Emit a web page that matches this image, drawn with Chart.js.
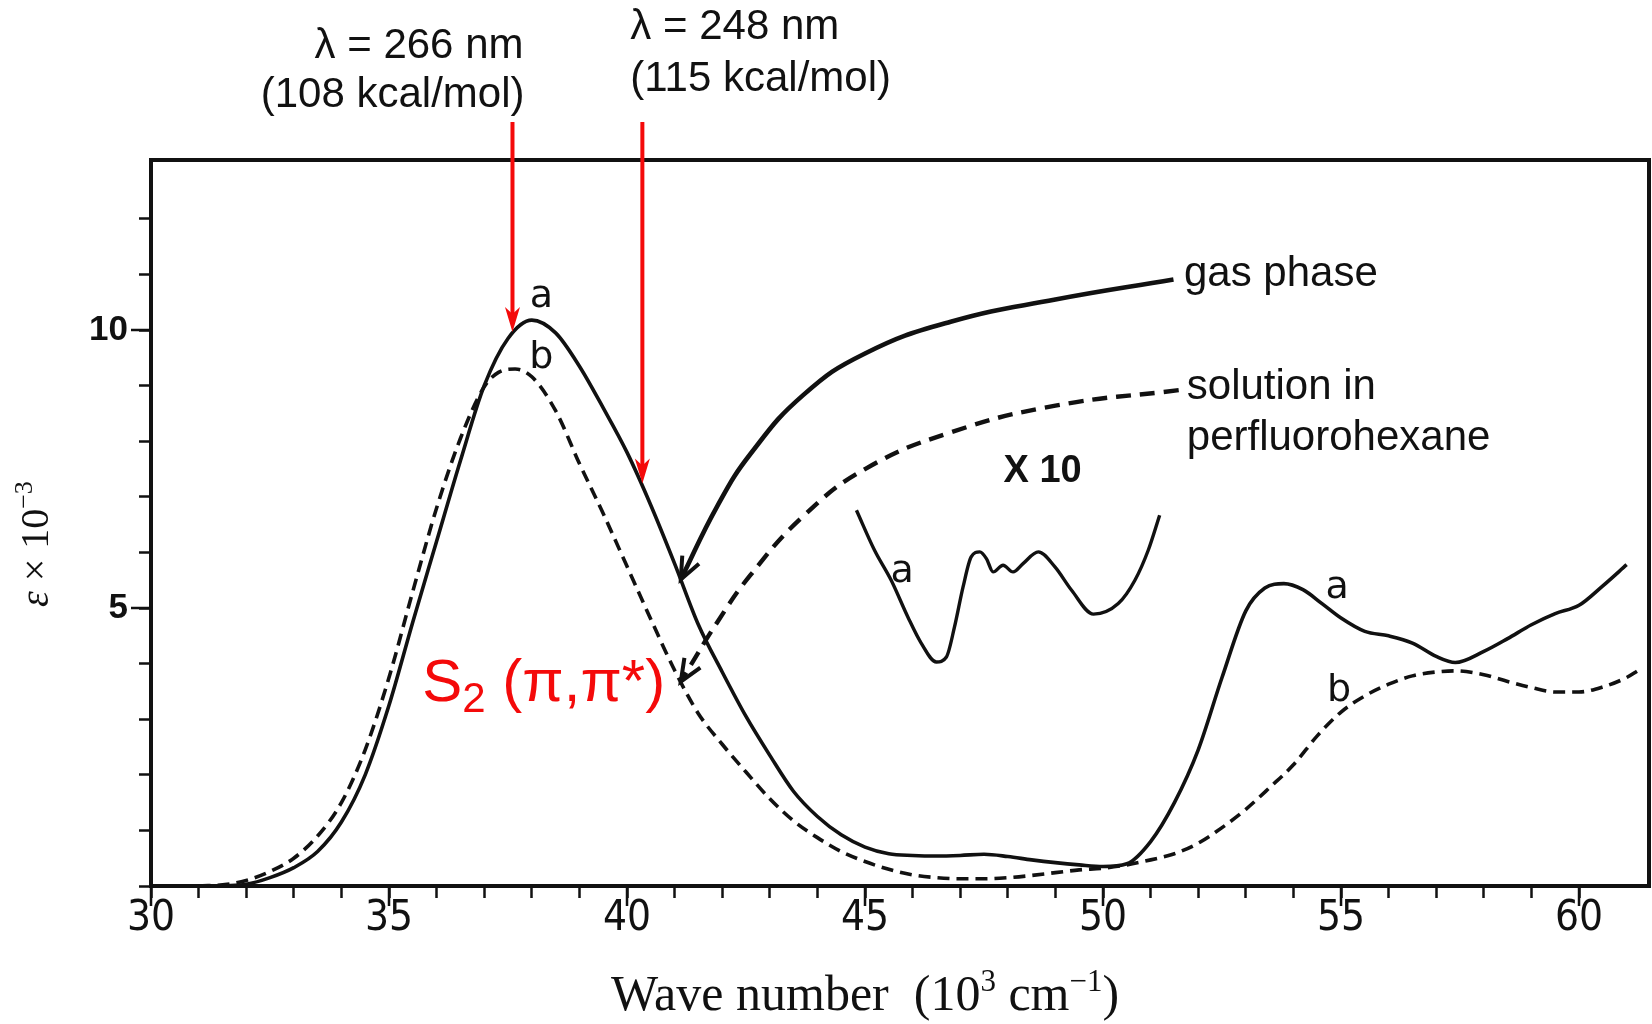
<!DOCTYPE html>
<html>
<head>
<meta charset="utf-8">
<script src="https://cdn.jsdelivr.net/npm/chart.js@4.4.1/dist/chart.umd.min.js"></script>
<style>
  html, body { margin: 0; padding: 0; background: #fff; }
</style>
</head>
<body>
<canvas id="spectrum" width="1652" height="1024"></canvas>
<script>
// curve a: gas phase, wave number in 10^3 cm^-1, eps in units of 10^3
const gasWave = [31.5, 32.0, 32.5, 33.0, 33.5, 34.0, 34.5, 35.0, 35.5, 36.0, 36.5, 37.0, 37.5, 38.0, 38.5, 39.0, 39.5, 40.0, 40.5, 41.0, 41.5, 42.0, 42.5, 43.0, 43.5, 44.0, 44.5, 45.0, 45.5, 46.0, 46.5, 47.0, 47.5, 48.0, 48.5, 49.0, 49.5, 50.0, 50.5, 51.0, 51.5, 52.0, 52.5, 53.0, 53.4, 53.8, 54.2, 54.6, 55.0, 55.5, 56.0, 56.5, 57.0, 57.4, 58.0, 58.5, 59.0, 59.5, 60.0, 60.5, 61.0];
const gasEps = [0.0, 0.03, 0.15, 0.33, 0.62, 1.15, 2.0, 3.25, 4.75, 6.2, 7.65, 9.0, 9.85, 10.18, 9.95, 9.35, 8.6, 7.8, 6.85, 5.8, 4.7, 3.85, 3.05, 2.35, 1.7, 1.25, 0.92, 0.7, 0.58, 0.55, 0.54, 0.55, 0.57, 0.53, 0.47, 0.42, 0.38, 0.35, 0.4, 0.8, 1.5, 2.45, 3.75, 4.95, 5.36, 5.44, 5.33, 5.08, 4.82, 4.58, 4.5, 4.37, 4.13, 4.02, 4.22, 4.45, 4.7, 4.9, 5.05, 5.4, 5.78];

// curve b: solution in perfluorohexane
const solWave = [31.0, 31.6, 32.0, 32.5, 33.0, 33.5, 34.0, 34.5, 35.0, 35.5, 36.0, 36.5, 37.0, 37.3, 37.65, 38.0, 38.5, 39.0, 39.5, 40.0, 40.5, 41.0, 41.5, 42.0, 42.5, 43.0, 43.5, 44.0, 44.5, 45.0, 45.5, 46.0, 46.5, 47.0, 47.5, 48.0, 48.5, 49.0, 49.5, 50.0, 50.5, 51.0, 51.5, 52.0, 52.5, 53.0, 53.5, 54.0, 54.5, 55.0, 55.5, 56.0, 56.5, 57.0, 57.4, 58.0, 58.5, 59.0, 59.5, 60.0, 60.5, 61.0, 61.25];
const solEps = [0.0, 0.03, 0.1, 0.26, 0.5, 0.9, 1.5, 2.45, 3.75, 5.3, 6.8, 8.05, 8.98, 9.24, 9.3, 9.16, 8.55, 7.6, 6.7, 5.75, 4.8, 3.88, 3.1, 2.55, 2.05, 1.57, 1.17, 0.87, 0.62, 0.44, 0.3, 0.2, 0.15, 0.13, 0.13, 0.15, 0.19, 0.24, 0.29, 0.32, 0.38, 0.47, 0.58, 0.77, 1.05, 1.38, 1.77, 2.18, 2.7, 3.13, 3.42, 3.63, 3.78, 3.85, 3.87, 3.8, 3.68, 3.57, 3.49, 3.49, 3.58, 3.75, 3.88];

// weak band of curve a, drawn ten times enlarged
const x10Wave = [44.82, 45.2, 45.55, 45.9, 46.18, 46.5, 46.71, 46.88, 47.06, 47.23, 47.41, 47.55, 47.69, 47.9, 48.11, 48.32, 48.64, 48.99, 49.34, 49.8, 50.32, 50.67, 50.95, 51.19];
const x10Eps = [6.76, 6.04, 5.5, 4.84, 4.37, 4.03, 4.12, 4.66, 5.38, 5.92, 6.01, 5.89, 5.65, 5.77, 5.65, 5.8, 6.01, 5.74, 5.32, 4.89, 5.08, 5.5, 6.04, 6.67];

// excitation wavelengths (nm) and photon energies
const laserNm = [266, 248];
const laserKcal = [108, 115];

// leader curves from the phase names down to the spectra
const gasLeadWave = [51.48, 49.0, 46.8, 45.0, 43.7, 42.6, 41.9];
const gasLeadEps = [10.91, 10.55, 10.15, 9.58, 8.83, 7.78, 6.84];
const solLeadWave = [51.59, 49.0, 46.8, 45.0, 43.7, 42.6, 41.9];
const solLeadEps = [8.92, 8.64, 8.16, 7.5, 6.65, 5.6, 4.75];
const leadTipWave = 41.13;

// labelled ticks
const xTickLabels = [30, 35, 40, 45, 50, 55, 60];
const yTickLabels = [5, 10];

const ink = '#111';
const red = '#f40a0a';
const sans = '"Liberation Sans", Arial, sans-serif';
const serif = '"Liberation Serif", "Times New Roman", serif';

function interp(xs, ys, v) {
    for (let i = 1; i < xs.length; i++) {
        if (v <= xs[i]) {
            const t = (v - xs[i - 1]) / (xs[i] - xs[i - 1]);
            return ys[i - 1] + t * (ys[i] - ys[i - 1]);
        }
    }
    return ys[ys.length - 1];
}

function points(xs, ys) {
    return xs.map((v, i) => ({x: v, y: ys[i]}));
}

function leader(xs, ys, curveX, curveY) {
    const pts = points(xs, ys);
    pts.push({x: leadTipWave, y: interp(curveX, curveY, leadTipWave)});
    return pts;
}

function openHead(ctx, fx, fy, tx, ty, len, spread) {
    const a = Math.atan2(ty - fy, tx - fx);
    ctx.beginPath();
    ctx.moveTo(tx - len * Math.cos(a - spread), ty - len * Math.sin(a - spread));
    ctx.lineTo(tx, ty);
    ctx.lineTo(tx - len * Math.cos(a + spread), ty - len * Math.sin(a + spread));
    ctx.stroke();
}

function redArrow(ctx, px, top, tip) {
    ctx.strokeStyle = red;
    ctx.fillStyle = red;
    ctx.lineWidth = 4;
    ctx.beginPath();
    ctx.moveTo(px, top);
    ctx.lineTo(px, tip - 16);
    ctx.stroke();
    ctx.beginPath();
    ctx.moveTo(px, tip);
    ctx.lineTo(px - 7.5, tip - 25);
    ctx.lineTo(px, tip - 18);
    ctx.lineTo(px + 7.5, tip - 25);
    ctx.closePath();
    ctx.fill();
}

function text(ctx, str, px, py, font, align, color) {
    ctx.font = font;
    ctx.textAlign = align || 'left';
    ctx.textBaseline = 'middle';
    ctx.fillStyle = color || ink;
    ctx.fillText(str, px, py);
}

// draws a run of pieces [text, font, raise] starting at px on one baseline
function runText(ctx, parts, px, py) {
    parts.forEach(s => {
        ctx.font = s[1];
        ctx.fillText(s[0], px, py + s[2]);
        px += ctx.measureText(s[0]).width;
    });
}

function runWidth(ctx, parts) {
    let w = 0;
    parts.forEach(s => { ctx.font = s[1]; w += ctx.measureText(s[0]).width; });
    return w;
}

const annotate = {
    id: 'annotate',
    afterDraw(chart) {
        const ctx = chart.ctx;
        const area = chart.chartArea;
        const x = chart.scales.x;
        const y = chart.scales.y;
        ctx.save();

        // top and right edge of the box
        ctx.strokeStyle = ink;
        ctx.lineWidth = 4;
        ctx.beginPath();
        ctx.moveTo(area.left - 2, area.top);
        ctx.lineTo(area.right, area.top);
        ctx.lineTo(area.right, area.bottom + 2);
        ctx.stroke();

        // longer ticks at the labelled values
        ctx.lineWidth = 2.5;
        ctx.beginPath();
        xTickLabels.forEach(v => {
            const px = x.getPixelForValue(v);
            ctx.moveTo(px, area.bottom);
            ctx.lineTo(px, area.bottom + 20);
        });
        yTickLabels.forEach(v => {
            const py = y.getPixelForValue(v);
            ctx.moveTo(area.left, py);
            ctx.lineTo(area.left - 20, py);
        });
        ctx.stroke();

        // arrow heads of the leader curves
        ctx.strokeStyle = ink;
        ctx.lineWidth = 4;
        [[gasLeadWave, gasLeadEps, gasWave, gasEps], [solLeadWave, solLeadEps, solWave, solEps]].forEach(l => {
            const n = l[0].length - 1;
            const tipY = interp(l[2], l[3], leadTipWave);
            openHead(ctx, x.getPixelForValue(l[0][n]), y.getPixelForValue(l[1][n]),
                x.getPixelForValue(leadTipWave), y.getPixelForValue(tipY), 24, 0.4);
        });

        // excitation lines, wave number = 10^4 / nm in 10^3 cm^-1
        laserNm.forEach((nm, i) => {
            const wave = 1e4 / nm;
            const px = x.getPixelForValue(wave);
            const tip = y.getPixelForValue(interp(gasWave, gasEps, wave)) - 3;
            redArrow(ctx, px, area.top - 38, tip);
            if (i === 0) {
                text(ctx, 'λ = ' + nm + ' nm', px + 11, area.top - 114, '42px ' + sans, 'right');
                text(ctx, '(' + laserKcal[i] + ' kcal/mol)', px + 12, area.top - 65, '42px ' + sans, 'right');
            } else {
                text(ctx, 'λ = ' + nm + ' nm', px - 12, area.top - 133, '42px ' + sans, 'left');
                text(ctx, '(' + laserKcal[i] + ' kcal/mol)', px - 12, area.top - 81, '42px ' + sans, 'left');
            }
        });

        // curve letters and phase names
        const at = (wv, e) => [x.getPixelForValue(wv), y.getPixelForValue(e)];
        const letter = '38px "DejaVu Sans", sans-serif';
        [['a', 38.2, 10.6], ['b', 38.2, 9.5], ['a', 45.78, 5.65], ['a', 54.92, 5.36], ['b', 54.96, 3.5]].forEach(l => {
            const p = at(l[1], l[2]);
            text(ctx, l[0], p[0], p[1], letter, 'center');
        });
        let p = at(48.73, 7.46);
        text(ctx, 'X 10', p[0], p[1], 'bold 38px "Liberation Sans Narrow", ' + sans, 'center');

        p = at(51.7, 11.0);
        text(ctx, 'gas phase', p[0], p[1], '42px ' + sans);
        p = at(51.76, 8.96);
        text(ctx, 'solution in', p[0], p[1], '42px ' + sans);
        p = at(51.76, 8.06);
        text(ctx, 'perfluorohexane', p[0], p[1], '42px ' + sans);

        // state assignment of the band
        p = at(35.7, 3.62);
        ctx.font = '60px ' + sans;
        const wS = ctx.measureText('S').width;
        text(ctx, 'S', p[0], p[1], '60px ' + sans, 'left', red);
        text(ctx, '2', p[0] + wS, p[1] + 16, '42px ' + sans, 'left', red);
        ctx.font = '42px ' + sans;
        const w2 = ctx.measureText('2').width;
        text(ctx, ' (π,π*)', p[0] + wS + w2, p[1], '60px ' + sans, 'left', red);

        // axis titles
        ctx.fillStyle = ink;
        ctx.textBaseline = 'alphabetic';
        ctx.textAlign = 'left';
        const xParts = [['Wave number  (10', '50px ' + serif, 0], ['3', '31px ' + serif, -19], [' cm', '50px ' + serif, 0], ['\u22121', '31px ' + serif, -19], [')', '50px ' + serif, 0]];
        runText(ctx, xParts, x.getPixelForValue(45) - runWidth(ctx, xParts) / 2, 1010);

        const yParts = [['ε', 'italic 40px ' + serif, 0], [' × 10', '40px ' + serif, 0], ['\u22123', '26px ' + serif, -16]];
        const wy = runWidth(ctx, yParts);
        ctx.translate(48, y.getPixelForValue(6.15));
        ctx.rotate(-Math.PI / 2);
        runText(ctx, yParts, -wy / 2, 0);
        ctx.restore();
    }
};

function onlyIntegers(scale) {
    scale.ticks = scale.ticks.filter(t => Number.isInteger(t.value));
}

function createChart() {
    const lineOpts = {pointRadius: 0, borderColor: ink, fill: false, cubicInterpolationMode: 'monotone'};
    new Chart(document.getElementById('spectrum'), {
        type: 'line',
        data: {
            datasets: [
                Object.assign({label: 'a', data: points(gasWave, gasEps), borderWidth: 3.6}, lineOpts),
                Object.assign({label: 'b', data: points(solWave, solEps), borderWidth: 3.6, borderDash: [12, 7]}, lineOpts),
                Object.assign({label: 'a x 10', data: points(x10Wave, x10Eps), borderWidth: 3.4}, lineOpts),
                {label: 'gas phase', data: leader(gasLeadWave, gasLeadEps, gasWave, gasEps), borderWidth: 4.6, borderColor: ink, pointRadius: 0, tension: 0.45},
                {label: 'solution', data: leader(solLeadWave, solLeadEps, solWave, solEps), borderWidth: 4.4, borderColor: ink, borderDash: [15, 9], pointRadius: 0, tension: 0.45}
            ]
        },
        options: {
            responsive: false,
            animation: false,
            devicePixelRatio: 1,
            layout: {padding: {top: 160, right: 3, left: 0, bottom: 0}},
            plugins: {legend: {display: false}, tooltip: {enabled: false}},
            scales: {
                x: {
                    type: 'linear',
                    min: 30,
                    max: 61.47,
                    afterBuildTicks: onlyIntegers,
                    afterFit: s => { s.height = 138; },
                    ticks: {
                        stepSize: 1,
                        autoSkip: false,
                        maxRotation: 0,
                        padding: -4,
                        color: ink,
                        font: {family: '"Liberation Sans Narrow", "DejaVu Sans Condensed", "Liberation Sans"', size: 42},
                        callback: v => xTickLabels.includes(v) ? String(v) : ''
                    },
                    grid: {drawOnChartArea: false, tickLength: 12, tickWidth: 2.5, tickColor: ink},
                    border: {display: true, color: ink, width: 4}
                },
                y: {
                    min: 0,
                    max: 13.06,
                    afterBuildTicks: onlyIntegers,
                    afterFit: s => { s.width = 151; },
                    ticks: {
                        stepSize: 1,
                        autoSkip: false,
                        padding: 11,
                        color: ink,
                        font: {family: sans, size: 35, weight: 'bold'},
                        callback: v => yTickLabels.includes(v) ? String(v) : ''
                    },
                    grid: {drawOnChartArea: false, tickLength: 12, tickWidth: 2.5, tickColor: ink},
                    border: {display: true, color: ink, width: 4}
                }
            }
        },
        plugins: [annotate]
    });
}

createChart();
</script>
</body>
</html>
